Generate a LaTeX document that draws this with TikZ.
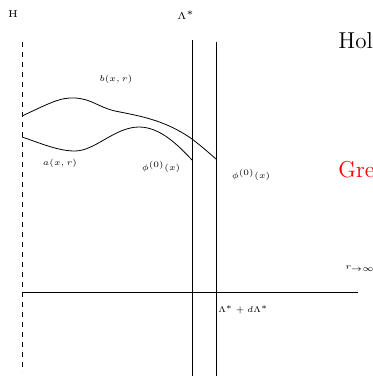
\documentclass[tikz,border=0pt]{standalone}
\usepackage{xcolor}
\usepackage{tikz}
\usetikzlibrary{calc}
\definecolor{grecol}{RGB}{255,0,0}

\begin{document}
\begin{tikzpicture}[x=0.5pt, y=-0.5pt,
    every node/.style={font=\fontsize{5}{6}\selectfont, inner sep=0pt},
    lab/.style={scale=0.84}]

    \clip (0,0) rectangle (373,377);

    %% horizon, cut-off surfaces and boundary
    \coordinate (hortop) at (22,42);
    \coordinate (horbot) at (22,372);
    \draw[dash pattern=on 2.5pt off 2.5pt] (hortop) -- (horbot);

    \coordinate (cuttop) at (192,40);
    \coordinate (cutbot) at (192,376);
    \draw (cuttop) -- (cutbot);

    \coordinate (dcuttop) at (216,42);
    \coordinate (dcutbot) at (216,376);
    \draw (dcuttop) -- (dcutbot);

    \coordinate (bdyL) at (22,292);
    \coordinate (bdyR) at (358,292);
    \draw (bdyL) -- (bdyR);

    %% profile b(x,r)
    \draw (22,116) .. controls (48,104) and (60,97) .. (75,98)
      .. controls (92,99) and (98,107) .. (115,111)
      .. controls (140,116) and (165,120) .. (192,139)
      .. controls (200,145) and (208,152) .. (216,159);
    %% profile a(x,r)
    \draw (22,137) .. controls (40,143) and (58,151) .. (75,151)
      .. controls (95,151) and (115,127) .. (139,127)
      .. controls (160,127) and (178,145) .. (192,160);

    %% labels
    \node (hlab) at (13,14) {H};
    \node (lamlab) at (186,15) {$\Lambda^*$};
    \node[lab] (blab) at (116,79) {$b(x,r)$};
    \node[lab] (alab) at (60,163) {$a(x,r)$};
    \node[lab] (phia) at (161,167) {$\phi^{(0)}(x)$};
    \node[lab] (phib) at (251,175) {$\phi^{(0)}(x)$};
    \node[lab, anchor=west] (dlamlab) at (218,310) {$\Lambda^*+d\Lambda^*$};
    \node[lab, anchor=west] (rinf) at (345,269) {$r_{\to\infty}$};

    \node[anchor=base west, font=\fontsize{11.5}{13}\selectfont] (hol) at (338,48) {Hol};
    \node[anchor=base west, grecol, font=\fontsize{11.5}{13}\selectfont] (gre) at (338,177) {Gre};

\end{tikzpicture}
\end{document}
